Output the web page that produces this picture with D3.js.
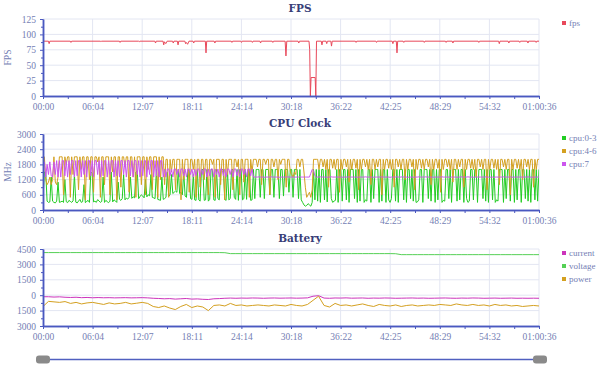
<!DOCTYPE html>
<html lang="en">
<head>
<meta charset="UTF-8">
<title>Performance</title>
<style>
  body { margin: 0; background: #fff; }
  svg text { font-family: "Liberation Serif", serif; }
  .tick text { fill: #7480b4; font-size: 9.5px; }
  .axis path, .axis line { stroke: #4a58c0; }
  .grid line { stroke: #e3e6f2; }
  .title { fill: #383e78; font-family: "DejaVu Serif", serif !important; font-weight: bold; font-size: 10.5px; }
  .legend text { fill: #7480b4; font-size: 9px; }
</style>
</head>
<body>
<script src="https://d3js.org/d3.v7.min.js"></script>
<script>

const totalSec = 3636;
const timeLabels = ['00:00', '06:04', '12:07', '18:11', '24:14', '30:18', '36:22', '42:25', '48:29', '54:32', '01:00:36'];

const fpsTicks = [0, 25, 50, 75, 100, 125];
const cpuTicks = [0, 600, 1200, 1800, 2400, 3000];
const batteryTicks = [-3000, -1500, 0, 1500, 3000, 4500];

// [seconds, fps]
const fpsData = [[0,89],[40,89],[45,85],[50,89],[200,89],[205,87],[210,89],[420,89],[425,88],[430,89],
  [560,89],[565,87],[570,89],[700,89],[705,88],[710,89],[820,89],[825,86],[830,89],[880,89],[885,83],
  [890,88],[900,85],[910,89],[950,89],[955,86],[960,89],[985,89],[990,83],[995,89],[1040,89],[1045,85],
  [1050,87],[1060,84],[1070,89],[1100,89],[1105,86],[1110,89],[1190,89],[1195,70],[1200,89],[1255,89],
  [1260,86],[1265,89],[1380,89],[1385,87],[1390,89],[1450,89],[1455,87],[1460,89],[1530,89],[1535,87],
  [1540,89],[1590,89],[1595,86],[1600,89],[1680,89],[1685,87],[1690,89],[1775,89],[1781,65],[1787,89],
  [1870,89],[1875,86],[1880,89],[1950,89],[1955,75],[1960,0],[1965,30],[1995,30],[2000,0],[2005,89],
  [2040,89],[2045,83],[2050,89],[2075,89],[2080,85],[2085,89],[2110,89],[2115,81],[2120,89],[2290,89],
  [2295,87],[2300,89],[2440,89],[2445,87],[2450,89],[2560,89],[2565,85],[2570,89],[2590,89],[2595,70],
  [2600,89],[2640,89],[2645,87],[2650,89],[2790,89],[2795,87],[2800,89],[2950,89],[2955,87],[2960,89],
  [3000,89],[3005,86],[3010,89],[3190,89],[3195,87],[3200,89],[3340,89],[3345,85],[3350,89],[3410,89],
  [3415,86],[3420,89],[3490,89],[3495,87],[3500,89],[3550,89],[3555,86],[3560,89],[3610,89],[3615,87],
  [3620,89],[3636,89]];

// MHz, one sample about every 10 s
const cpu03 = [400,1500,1500,350,300,320,1300,350,300,280,350,1100,300,
  320,350,300,1200,330,290,380,340,300,360,
  1400,310,280,350,420,300,330,1000,290,340,
  380,300,1500,1450,320,350,300,410,360,300,
  340,1300,300,380,330,290,350,1500,320,400,
  360,300,1100,420,380,450,1400,400,470,430,
  500,1300,460,520,480,1500,1550,450,530,600,
  550,480,1200,520,600,560,1400,500,480,450,
  1600,420,400,380,1300,420,
  450,500,1500,550,600,1400,650,700,750,700,
  1600,650,700,600,1500,550,500,1600,1550,450,
  420,1400,400,380,1600,400,350,
  1600,1600,380,400,1600,350,420,1600,1600,400,
  380,1600,450,400,1600,1600,1600,420,380,1600,
  400,450,1600,1600,500,420,1600,380,1600,1600,
  400,450,1600,420,1600,1600,380,400,1600,450,
  1600,1600,1600,500,1600,1600,450,1600,1600,1600,
  600,1600,1600,500,1600,1600,1600,450,1600,1600,
  550,1600,1600,1600,700,1600,1600,500,1600,1600,
  1600,450,1600,
  400,300,200,150,180,250,200,150,300,1600,400,1600,
  350,1600,300,1600,1600,400,1600,320,1600,1600,
  450,300,350,380,1600,300,1600,1600,350,1600,
  1600,400,1600,300,1600,1600,1600,450,1600,300,
  1600,350,1600,1600,300,400,350,1600,1600,300,
  1600,450,1600,1600,1600,300,1600,350,1600,1600,
  300,1600,400,300,450,1600,1600,350,1600,300,
  1600,1600,1600,400,1600,300,1600,1600,450,1600,
  350,1600,300,320,400,1600,1600,300,1600,1600,
  1600,450,1600,350,1600,1600,300,1600,400,1600,
  1600,300,380,350,1600,1600,450,1600,300,1600,
  1600,1600,350,1600,400,1600,1600,300,1600,450,
  300,350,1600,1600,400,1600,1600,300,1600,1600,
  1600,450,1600,350,1600,300,1600,1600,400,1600,
  300,400,350,1600,1600,1600,300,1600,450,1600,
  1600,350,1600,1600,300,1600,400,1600,1600,300,
  1600,1600,450,1600,350,1600,300,1600,1600,400,
  1600,350,1600];
const cpu46 = [2100,2100,1200,1000,1100,1300,1000,1200,2100,1100,1000,1300,2100,
  2100,2100,600,2100,1800,2100,2100,500,2100,1400,
  2100,2100,2100,800,2100,1600,2100,2100,400,2100,
  2100,1200,2100,2100,700,2100,2100,1900,2100,500,
  2100,2100,1000,2100,2100,2100,600,2100,1500,2100,
  2100,400,2100,2100,900,2100,2100,1700,2100,2100,
  700,2100,2100,1300,2100,500,2100,2100,2100,1000,
  2100,2100,600,2100,1600,2100,2100,800,2100,2100,
  2100,500,2100,1200,2100,2100,
  1000,2000,2000,500,2000,1500,2000,2000,800,2000,
  2000,2000,400,2000,1200,2000,2000,2000,700,2000,
  2000,1600,2000,500,2000,2000,900,
  2000,2000,1200,2000,2000,600,2000,2000,1800,2000,
  500,2000,2000,2000,1000,2000,2000,400,2000,1400,
  2000,2000,2000,800,2000,2000,1700,2000,600,2000,
  2000,1100,2000,2000,2000,500,2000,1500,2000,2000,
  2000,1700,2000,2000,1000,2000,2000,1800,2000,2000,
  600,2000,2000,1700,2000,2000,1200,2000,1800,2000,
  2000,2000,900,2000,2000,1500,1400,1300,1500,1400,
  2000,2000,1700,
  2000,2000,1500,900,500,600,700,500,800,2000,2000,2000,
  2000,1600,2000,2000,1700,2000,1600,2000,900,2000,
  2000,1650,2000,1600,2000,2000,700,2000,1600,2000,
  2000,1700,2000,1100,2000,1600,2000,2000,1650,2000,
  800,2000,1600,2000,2000,1700,2000,1600,2000,1000,
  2000,2000,1600,2000,1700,2000,2000,600,2000,1600,
  2000,2000,1650,2000,1600,2000,900,2000,2000,1700,
  2000,1600,2000,2000,1200,2000,1600,2000,2000,1700,
  2000,800,2000,1600,2000,2000,1650,2000,1600,2000,
  2000,1700,2000,1000,2000,1600,2000,2000,1650,2000,
  700,2000,1600,2000,2000,1700,2000,1600,2000,1100,
  2000,2000,1600,2000,1700,2000,2000,900,2000,1600,
  2000,2000,1650,2000,1600,2000,1300,2000,2000,1700,
  2000,1600,2000,2000,800,2000,1600,2000,2000,1650,
  2000,1600,2000,1000,2000,2000,1700,2000,1600,2000,
  2000,600,2000,1600,2000,2000,1650,2000,1600,2000,
  1200,2000,2000,1700,2000,1600,2000,2000,900,2000,
  1600,2000,2000];
const cpu7 = [1900,1900,1300,1800,1400,1900,1350,1300,1900,1400,1950,1300,1950,
  1300,1950,1950,1350,1950,1300,1950,1400,1950,1950,
  1300,1950,1350,1950,1950,1300,1950,1400,1950,1300,
  1950,1950,1350,1950,1300,1950,1950,1400,1950,1300,
  1950,1350,1950,1950,1300,1950,1400,1950,1950,1300,
  1950,1350,1950,1300,1950,1950,1400,1950,1300,1950,
  1950,1350,1950,1300,1950,1950,1400,1950,1300,1950,
  1350,1950,1950,1300,1950,1400,1950,1950,1300,1950,
  1350,1950,1300,1950,1950,1300,
  1620,1300,1620,1620,1350,1620,1300,1620,1620,1400,
  1620,1300,1620,1620,1350,1620,1300,1620,1620,1400,
  1620,1300,1620,1350,1620,1620,1300,1620,1400,1620,
  1620,1300,1620,1350,1620,1620,1300,1620,1400,1620,
  1300,1620,1620,1350,1620,1300,1620,1620,1400,1620,
  1300,1620,1620,1350,1620,1300,1620,1620,1400,1620,
  1300,1620,1620,1350,1620,1300,1300,
  1300,1300,1310,1300,1300,1300,1290,1300,1300,1300,
  1300,1310,1300,1300,1300,1300,1300,1290,1300,1300,
  1300,1300,1300,1310,1300,1300,1300,1300,1290,1300,
  1300,1300,1310,1300,1300,1300,1300,1300,1300,1300,
  1450,1600,1550,1350,
  1300,1300,1300,1310,1300,1300,1300,1300,1290,1300,
  1300,1310,1300,1300,1300,1300,1300,1300,1300,1290,
  1300,1300,1300,1300,1310,1300,1300,1300,1300,1300,
  1290,1300,1300,1300,1300,1300,1310,1300,1300,1300,
  1300,1300,1290,1300,1300,1300,1300,1310,1300,1300,
  1300,1300,1300,1300,1290,1300,1300,1300,1300,1310,
  1300,1300,1300,1310,1300,1300,1300,1290,1300,1300,
  1300,1290,1300,1300,1300,1310,1300,1300,1300,1300,
  1310,1300,1300,1300,1300,1300,1290,1300,1300,1300,
  1300,1300,1310,1300,1300,1300,1300,1300,1290,1300,
  1300,1300,1300,1290,1300,1300,1310,1300,1300,1300,
  1300,1310,1300,1300,1300,1290,1300,1300,1300,1300,
  1300,1300,1300,1300,1310,1300,1300,1290,1300,1300,
  1290,1300,1300,1300,1300,1300,1300,1310,1300,1300,
  1300,1300,1310,1300,1290,1300,1300,1300,1300,1300,
  1300,1300,1300,1300,1300,1310,1300,1300,1290,1300,
  1300,1300,1300,1300];

// mA / mV / mW, evenly spaced samples
const currentData = [-150,-150,-180,-160,-200,-220,-200,-240,-220,-250,-230,-250,-240,-260,-250,-240,-260,-250,-240,-260,
  -300,-320,-350,-330,-380,-350,-320,-380,-360,-400,-420,-350,-330,-300,-280,-300,-280,-290,-270,-280,
  -300,-280,-270,-290,-280,-270,-290,-280,-260,-100,-50,-280,-300,-270,-280,-260,-290,-280,-270,-300,
  -280,-290,-270,-280,-300,-290,-280,-270,-290,-280,-300,-290,-280,-270,-290,-300,-280,-290,-270,-280,
  -300,-290,-280,-300,-290,-280,-300,-290,-300,-290,-300];
const voltageData = [4150,4150,4150,4150,4150,4150,4150,4150,4150,4150,4150,4150,4150,4150,4150,4150,4150,4150,4150,4150,
  4150,4150,4150,4150,4150,4150,4150,4150,4150,4150,4150,4150,4150,4140,4050,4050,4050,4050,4050,4050,
  4050,4050,4050,4050,4050,4050,4050,4050,4050,4050,4050,4050,4050,4050,4050,4050,4050,4050,4050,4050,
  4050,4050,4050,4050,4040,3950,3950,3950,3950,3950,3950,3950,3950,3950,3950,3950,3950,3950,3950,3950,
  3950,3950,3950,3950,3950,3950,3950,3950,3950,3950,3950];
const powerData = [-1100,-600,-650,-700,-620,-800,-700,-850,-750,-700,-800,-900,-750,-850,-800,-700,-850,-780,-700,-800,
  -1100,-1200,-1050,-1250,-1400,-1100,-900,-1200,-1050,-1150,-1500,-1000,-950,-1050,-800,-1000,-950,-1050,-1000,-950,
  -1000,-1050,-950,-1000,-1050,-900,-1000,-1050,-900,-500,-100,-1000,-1150,-800,-1000,-950,-1050,-950,-850,-1000,
  -1100,-900,-1000,-1050,-950,-1100,-1000,-950,-1050,-1000,-950,-1000,-900,-950,-1000,-850,-950,-1000,-900,-1000,
  -950,-1050,-900,-1000,-950,-1050,-1000,-1100,-1050,-1000,-1050];

const left = 43, right = 539;
const svg = d3.select('body').append('svg')
  .attr('width', 600)
  .attr('height', 372);

const x = d3.scaleLinear().domain([0, totalSec]).range([left, right]);
const majorPos = timeLabels.map((d, i) => i * totalSec / (timeLabels.length - 1));
const minorPos = majorPos.slice(1).map(d => d - totalSec / (timeLabels.length - 1) / 2);

function sampled(arr) {
  const step = totalSec / (arr.length - 1);
  return arr.map((v, i) => [i * step, v]);
}

function panel(opt) {
  const y = d3.scaleLinear().domain(opt.domain).range([opt.bottom, opt.top]);
  const g = svg.append('g');

  // grid
  const grid = g.append('g').attr('class', 'grid');
  grid.selectAll('.v').data(majorPos.slice(1)).enter().append('line')
    .attr('x1', d => x(d)).attr('x2', d => x(d))
    .attr('y1', opt.top).attr('y2', opt.bottom);
  grid.selectAll('.h').data(opt.ticks.slice(1)).enter().append('line')
    .attr('x1', left).attr('x2', right)
    .attr('y1', d => y(d)).attr('y2', d => y(d));

  const clipId = 'clip' + opt.top;
  g.append('clipPath').attr('id', clipId).append('rect')
    .attr('x', left).attr('y', opt.top - 1).attr('width', right - left).attr('height', opt.bottom - opt.top + 2);

  const line = d3.line().x(d => x(d[0])).y(d => y(d[1]));
  opt.series.forEach(s => {
    g.append('path')
      .attr('clip-path', 'url(#' + clipId + ')')
      .attr('d', line(s.data))
      .attr('fill', 'none')
      .attr('stroke', s.color)
      .attr('stroke-width', s.width || 1);
  });

  // axes
  g.append('g').attr('class', 'axis')
    .attr('transform', 'translate(0,' + opt.bottom + ')')
    .call(d3.axisBottom(x).tickValues(majorPos).tickFormat((d, i) => timeLabels[i]).tickSize(3).tickSizeOuter(0).tickPadding(4));
  g.append('g').attr('class', 'axis')
    .attr('transform', 'translate(0,' + opt.bottom + ')')
    .call(d3.axisBottom(x).tickValues(minorPos).tickFormat('').tickSize(3).tickSizeOuter(0));

  const minorY = opt.ticks.slice(1).map((d, i) => (d + opt.ticks[i]) / 2);
  g.append('g').attr('class', 'axis')
    .attr('transform', 'translate(' + left + ',0)')
    .call(d3.axisLeft(y).tickValues(minorY).tickFormat('').tickSize(2).tickSizeOuter(0));
  g.append('g').attr('class', 'axis')
    .attr('transform', 'translate(' + left + ',0)')
    .call(d3.axisLeft(y).tickValues(opt.ticks).tickFormat(d => Math.abs(d)).tickSize(3).tickSizeOuter(0).tickPadding(4));
  g.selectAll('.axis path').attr('stroke-width', 1.5);

  g.append('text').attr('class', 'title')
    .attr('x', 300).attr('y', opt.titleY)
    .attr('text-anchor', 'middle')
    .text(opt.title);

  if (opt.yLabel) {
    g.append('text')
      .attr('transform', 'translate(11,' + ((opt.top + opt.bottom) / 2) + ') rotate(-90)')
      .attr('text-anchor', 'middle')
      .attr('fill', '#7480b4')
      .attr('font-size', 9.5)
      .text(opt.yLabel);
  }

  const lg = g.append('g').attr('class', 'legend')
    .selectAll('g').data(opt.series).enter().append('g')
    .attr('transform', (d, i) => 'translate(562,' + (opt.legendY + i * 13) + ')');
  lg.append('rect').attr('x', 0).attr('y', -2).attr('width', 4).attr('height', 4).attr('fill', d => d.color);
  lg.append('text').attr('x', 7).attr('dy', '0.35em').text(d => d.name);
}

panel({
  title: 'FPS', titleY: 12, top: 19, bottom: 96, domain: [0, 125], ticks: fpsTicks,
  yLabel: 'FPS', legendY: 23,
  series: [{name: 'fps', color: '#e8485a', data: fpsData}]
});

panel({
  title: 'CPU Clock', titleY: 127, top: 134, bottom: 210, domain: [0, 3000], ticks: cpuTicks,
  yLabel: 'MHz', legendY: 138,
  series: [
    {name: 'cpu:0-3', color: '#22cc22', data: sampled(cpu03)},
    {name: 'cpu:4-6', color: '#d4a020', data: sampled(cpu46)},
    {name: 'cpu:7', color: '#cc55ee', data: sampled(cpu7)}
  ]
});

panel({
  title: 'Battery', titleY: 242, top: 249, bottom: 326, domain: [-3000, 4500], ticks: batteryTicks,
  legendY: 253,
  series: [
    {name: 'current', color: '#cc33bb', data: sampled(currentData)},
    {name: 'voltage', color: '#55d055', data: sampled(voltageData)},
    {name: 'power', color: '#d4a020', data: sampled(powerData)}
  ]
});

// zoom slider
const slider = svg.append('g');
slider.append('line')
  .attr('x1', 43).attr('x2', 541).attr('y1', 359.5).attr('y2', 359.5)
  .attr('stroke', '#5060c0').attr('stroke-width', 1.5);
[36, 533].forEach(hx => {
  slider.append('rect')
    .attr('x', hx).attr('y', 355.5).attr('width', 14).attr('height', 8).attr('rx', 3)
    .attr('fill', '#8a8a8a');
});

</script>
</body>
</html>
